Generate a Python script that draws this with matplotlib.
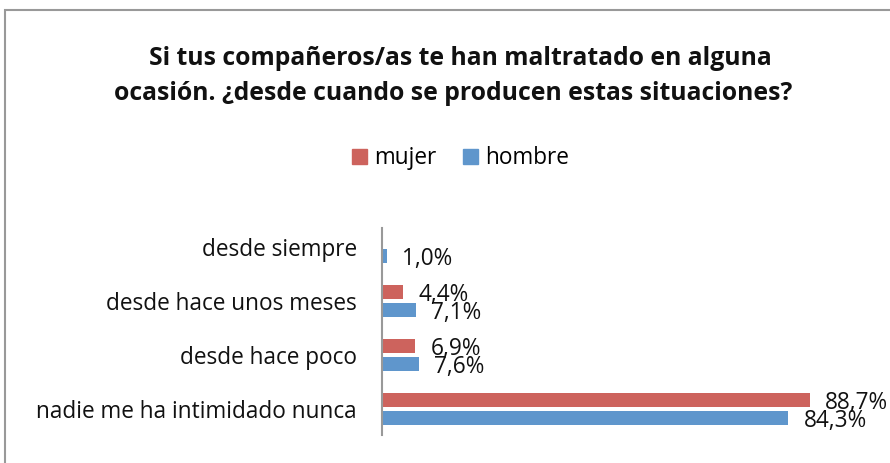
import numpy as np
import matplotlib.pyplot as plt
from matplotlib.patches import Rectangle

plt.rcParams['font.family'] = ['Open Sans', 'DejaVu Sans']

# data (top to bottom as in the chart)
categorias = ['desde siempre', 'desde hace unos meses', 'desde hace poco',
              'nadie me ha intimidado nunca']
mujer = [None, 4.4, 6.9, 88.7]
hombre = [1.0, 7.1, 7.6, 84.3]
titulo = ['Si tus compañeros/as te han maltratado en alguna',
          'ocasión. ¿desde cuando se producen estas situaciones?']

col_mujer = '#CD635D'
col_hombre = '#5F96CC'

fig = plt.figure(figsize=(8.9, 4.63), dpi=100)
ax = fig.add_axes([0.4292, 0.0605, 0.5416, 0.4471])

y = np.arange(len(categorias))[::-1]
h = 0.27
off = 0.167

def fmt(v):
    return f'{v:.1f}%'.replace('.', ',')

for vals, dy, col in [(mujer, off, col_mujer), (hombre, -off, col_hombre)]:
    for yi, v in zip(y, vals):
        if v is None:
            continue
        ax.barh(yi + dy, v, height=h, color=col)
        ax.annotate(fmt(v), (v, yi + dy), xytext=(11, -2), textcoords='offset points',
                    va='center', ha='left', fontsize=16.3, color='#111111',
                    annotation_clip=False)

ax.set_xlim(0, 100)
ax.set_ylim(-0.481, 3.352)
ax.set_yticks(y)
ax.set_yticklabels(categorias, fontsize=16.3, color='#111111')
ax.tick_params(axis='y', length=0, pad=18)
ax.set_xticks([])
for s in ['top', 'right', 'bottom']:
    ax.spines[s].set_visible(False)
ax.spines['left'].set_color('#999999')
ax.spines['left'].set_linewidth(1.5)

fig.text(0.5174, 0.8596, titulo[0], ha='center', va='baseline', fontsize=17.8,
         fontweight='bold', color='#111111')
fig.text(0.5095, 0.784, titulo[1], ha='center', va='baseline', fontsize=17.8,
         fontweight='bold', color='#111111')

# legend
handles = [Rectangle((0, 0), 1, 1, color=col_mujer), Rectangle((0, 0), 1, 1, color=col_hombre)]
fig.legend(handles, ['mujer', 'hombre'], loc='center', bbox_to_anchor=(0.5175, 0.658),
           ncol=2, frameon=False, fontsize=16.3, handlelength=0.65, handleheight=0.65,
           handletextpad=0.3, columnspacing=1.2)

# chart border
fig.patches.append(Rectangle((5 / 890, -0.05), 2, 1 - 10 / 463 + 0.05,
                             transform=fig.transFigure, fill=False,
                             edgecolor='#999999', linewidth=1.5, clip_on=False))

fig.savefig('out.png', dpi=100)
